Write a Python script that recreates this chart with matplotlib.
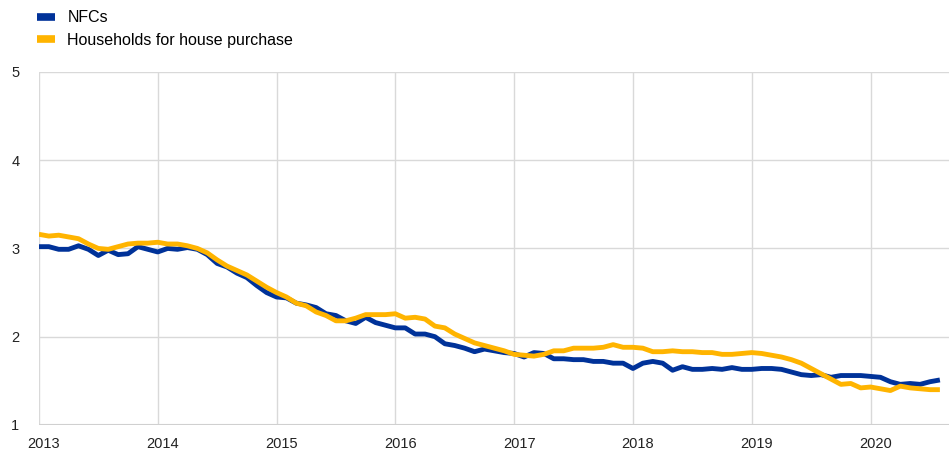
import matplotlib.pyplot as plt
import matplotlib.transforms as mtransforms
import numpy as np

plt.rcParams['font.family'] = ['Liberation Sans', 'DejaVu Sans']

# monthly, Jan 2013 - Aug 2020
nfcs = [
    3.02, 3.02, 2.99, 2.99, 3.03, 2.99, 2.92, 2.98, 2.93, 2.94, 3.02, 2.99,  # 2013
    2.96, 3.00, 2.99, 3.01, 2.99, 2.93, 2.83, 2.79, 2.72, 2.67, 2.58, 2.50,  # 2014
    2.45, 2.44, 2.38, 2.36, 2.33, 2.26, 2.24, 2.18, 2.15, 2.22, 2.16, 2.13,  # 2015
    2.10, 2.10, 2.03, 2.03, 2.00, 1.92, 1.90, 1.87, 1.83, 1.86, 1.84, 1.82,  # 2016
    1.81, 1.77, 1.82, 1.81, 1.75, 1.75, 1.74, 1.74, 1.72, 1.72, 1.70, 1.70,  # 2017
    1.64, 1.70, 1.72, 1.70, 1.62, 1.66, 1.63, 1.63, 1.64, 1.63, 1.65, 1.63,  # 2018
    1.63, 1.64, 1.64, 1.63, 1.60, 1.57, 1.56, 1.57, 1.54, 1.56, 1.56, 1.56,  # 2019
    1.55, 1.54, 1.49, 1.46, 1.47, 1.46, 1.49, 1.51,                          # 2020
]
households = [
    3.16, 3.14, 3.15, 3.13, 3.11, 3.05, 3.00, 2.99, 3.02, 3.05, 3.06, 3.06,  # 2013
    3.07, 3.05, 3.05, 3.03, 3.00, 2.95, 2.87, 2.80, 2.75, 2.70, 2.63, 2.56,  # 2014
    2.50, 2.45, 2.38, 2.35, 2.28, 2.24, 2.18, 2.18, 2.21, 2.25, 2.25, 2.25,  # 2015
    2.26, 2.21, 2.22, 2.20, 2.12, 2.10, 2.03, 1.98, 1.93, 1.90, 1.87, 1.84,  # 2016
    1.80, 1.79, 1.78, 1.80, 1.84, 1.84, 1.87, 1.87, 1.87, 1.88, 1.91, 1.88,  # 2017
    1.88, 1.87, 1.83, 1.83, 1.84, 1.83, 1.83, 1.82, 1.82, 1.80, 1.80, 1.81,  # 2018
    1.82, 1.81, 1.79, 1.77, 1.74, 1.70, 1.64, 1.58, 1.52, 1.46, 1.47, 1.42,  # 2019
    1.43, 1.41, 1.39, 1.44, 1.42, 1.41, 1.40, 1.40,                          # 2020
]
years = list(range(2013, 2021))
yticks = [1, 2, 3, 4, 5]

t = 2013 + np.arange(len(nfcs)) / 12.0

fig = plt.figure(figsize=(9.49, 4.55), dpi=100)
ax = fig.add_axes([0.041, 0.066, 0.959, 0.776])

ax.plot(t, nfcs, color='#003299', lw=3.5, label='NFCs', solid_capstyle='butt', zorder=3)
ax.plot(t, households, color='#FFB400', lw=3.5, label='Households for house purchase',
        solid_capstyle='butt', zorder=3)

ax.set_xlim(2013, 2020.66)
ax.set_ylim(1, 5)
ax.set_xticks(years)
ax.set_yticks(yticks)
ax.grid(True, color='#d9d9d9', lw=1.0)
ax.set_axisbelow(True)
for s in ax.spines.values():
    s.set_visible(False)
ax.axhline(1, color='#d0d0d0', lw=1.5, zorder=1)
ax.tick_params(length=0, labelsize=10.5, colors='#222222')
ax.tick_params(axis='y', pad=14)
ax.tick_params(axis='x', pad=9)
offset = mtransforms.ScaledTranslation(5 / 100, 0, fig.dpi_scale_trans)
for lab in ax.get_xticklabels():
    lab.set_transform(lab.get_transform() + offset)

leg = fig.legend(loc='upper left', bbox_to_anchor=(0.028, 1.0), frameon=False, fontsize=11.5,
                 handlelength=1.15, handletextpad=0.75, labelspacing=0.45, borderaxespad=0.25)
for h in leg.legend_handles:
    h.set_linewidth(5.5)

fig.savefig('out.png', dpi=100)
